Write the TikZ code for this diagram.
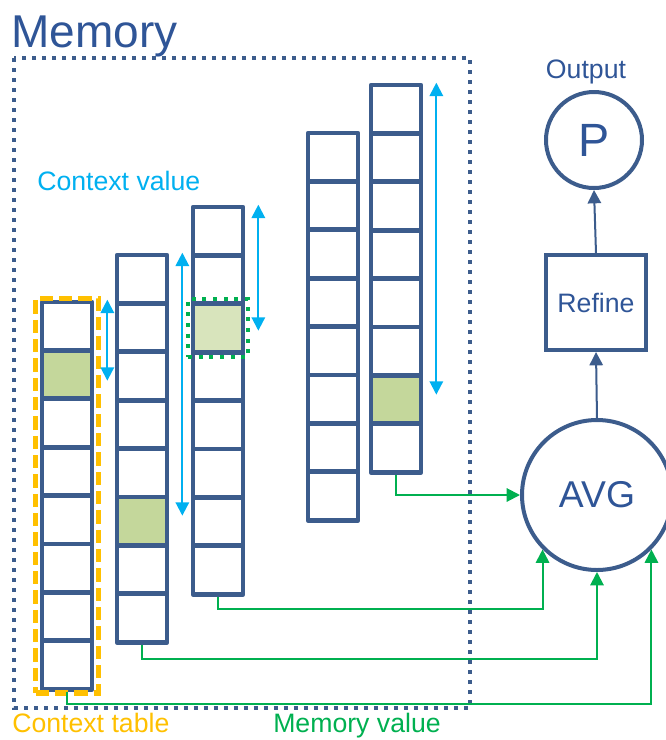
\documentclass[tikz,border=0pt]{standalone}
\usepackage{fontspec}
\setmainfont{Liberation Sans}
\usetikzlibrary{arrows.meta}
\usetikzlibrary{calc}
\usetikzlibrary{fit}

\definecolor{textblue}{RGB}{47,85,151}
\definecolor{lineblue}{RGB}{60,92,140}
\definecolor{ctxcyan}{RGB}{0,176,240}
\definecolor{memgreen}{RGB}{0,176,80}
\definecolor{ctxyellow}{RGB}{255,192,0}
\definecolor{cellgreen}{RGB}{196,215,155}
\definecolor{cellpale}{RGB}{216,228,188}

\begin{document}
\begin{tikzpicture}[x=0.75pt,y=0.75pt,yscale=-1,xscale=1,
  cell/.style={draw=lineblue,line width=3.5pt,line join=round,minimum width=37.5pt,minimum height=36.3pt,inner sep=0pt},
  ctxarrow/.style={draw=ctxcyan,line width=1.5pt,{Triangle[width=10pt,length=10pt]}-{Triangle[width=10pt,length=10pt]}},
  memarrow/.style={draw=memgreen,line width=1.5pt,-{Triangle[width=10pt,length=10pt]}},
  outarrow/.style={draw=lineblue,line width=1.5pt,-{Triangle[width=10pt,length=10pt]}},
  opnode/.style={circle,draw=lineblue,line width=3pt,text=textblue,inner sep=0pt},
  lbl/.style={font=\fontsize{20}{24}\selectfont,inner sep=0pt}]
\useasboundingbox (0,0) rectangle (665,740);

%Memory frame
\draw [lineblue,line width=3.2pt,dash pattern={on 3.2pt off 4.3pt}] (14,58) rectangle (470,708);
\node [anchor=base west,inner sep=0pt,text=textblue,font=\fontsize{34.5}{40}\selectfont] (memtitle) at (11,47) {Memory};

%Memory columns
\foreach \col/\cx/\top/\hit/\hc in {1/67/302/2/cellgreen, 2/142/255/6/cellgreen, 3/218/207/3/cellpale, 4/333/133/0/white, 5/396/85/7/cellgreen} {
  \foreach \i in {1,...,8} {
    \ifnum\i=\hit
      \node [cell,fill=\hc] (c\col-\i) at (\cx,{\top+(\i-0.5)*48.4}) {};
    \else
      \node [cell] (c\col-\i) at (\cx,{\top+(\i-0.5)*48.4}) {};
    \fi
  }
}

%Context table and highlighted slot
\node [fit=(c1-1)(c1-8),draw=ctxyellow,line width=4pt,dash pattern={on 10pt off 4.5pt},inner xsep=3pt,inner ysep=1pt] (ctxtable) {};
\node [fit=(c3-3),draw=memgreen,line width=3pt,dash pattern={on 3pt off 5pt},inner sep=2pt] (slot) {};

%Context value ranges
\draw [ctxarrow] ($(c1-1.north east)+(13,0)$) -- ++(0,81);
\draw [ctxarrow] ($(c2-1.north east)+(13,0)$) -- ++(0,263);
\draw [ctxarrow] ($(c3-1.north east)+(13,0)$) -- ++(0,126);
\draw [ctxarrow] ($(c5-1.north east)+(13,0)$) -- ++(0,312);

%Operators
\node [opnode,minimum size=112.5pt,font=\fontsize{28}{32}\selectfont] (avg) at (597,495) {AVG};
\node [draw=lineblue,line width=3pt,minimum width=75pt,minimum height=71.25pt,text=textblue,font=\fontsize{20}{24}\selectfont] (refine) at (596,302.5) {Refine};
\node [opnode,minimum size=72pt,font=\fontsize{35}{40}\selectfont] (out) at (594,140) {P};

\draw [outarrow] (avg.north) -- (refine.south);
\draw [outarrow] (refine.north) -- (out.south);

%Memory values to AVG
\draw [memarrow] (c5-8.south) |- (avg.west);
\draw [memarrow] (c3-8.south) -- ++(0,12) -| (avg.south west);
\draw [memarrow] (c2-8.south) -- ++(0,14) -| (avg.south);
\draw [memarrow] (c1-8.south) -- ++(0,12) -| (avg.south east);

% Text Node
\node [lbl,anchor=base west,text=ctxcyan] (ctxvalue) at (37,190) {Context value};
% Text Node
\node [lbl,anchor=base,text=textblue] (outlbl) at (586,78) {Output};
% Text Node
\node [lbl,anchor=base west,text=ctxyellow] (ctxlbl) at (12,732) {Context table};
% Text Node
\node [lbl,anchor=base west,text=memgreen] (memlbl) at (273,732) {Memory value};

\end{tikzpicture}
\end{document}
